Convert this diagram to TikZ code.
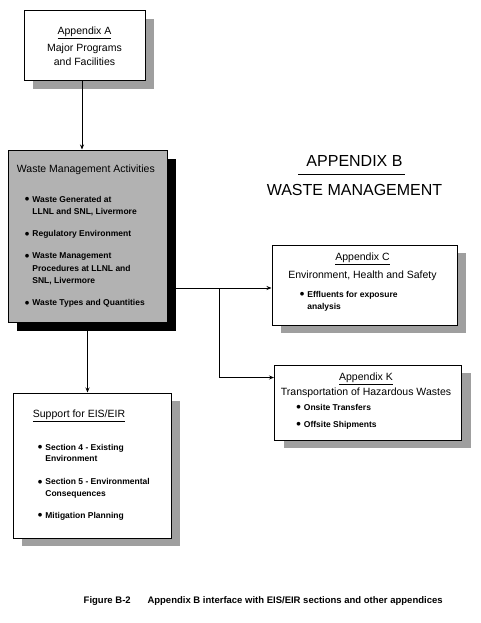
\documentclass[tikz,border=0pt]{standalone}
\usepackage{fontspec}
\setmainfont{Liberation Sans}
\usetikzlibrary{positioning, arrows.meta, shadows}

\newcommand{\dotitem}{\makebox[7.5pt][l]{\raisebox{-1.6pt}{\fontsize{13}{13}\selectfont\textbullet}}}
\newcommand{\cont}{\hspace*{7.5pt}}

\begin{document}
\begin{tikzpicture}[x=1pt, y=-1pt, >={Stealth[length=5pt, width=4pt]}, line width=0.8pt,
    panel/.style={draw, line width=1pt, fill=white, inner sep=0pt,
        drop shadow={shadow xshift=9pt, shadow yshift=-8pt, fill=gray!75, opacity=1}},
    darkpanel/.style={draw, line width=1pt, fill=gray!60, inner sep=0pt,
        drop shadow={shadow xshift=9pt, shadow yshift=-9pt, fill=black, opacity=1}},
    head/.style={inner sep=0pt, font=\fontsize{10.5}{14}\selectfont, align=center},
    list/.style={inner sep=0pt, font=\bfseries\fontsize{8.5}{12.5}\selectfont, align=left}]
    \useasboundingbox (0,0) rectangle (480,623);

    % boxes
    \node[panel, minimum width=121pt, minimum height=70pt] (appA) at (84.5,46) {};
    \node[darkpanel, minimum width=159pt, minimum height=172pt] (wm) at (87.5,236) {};
    \node[panel, minimum width=185pt, minimum height=80pt] (appC) at (364.5,285) {};
    \node[panel, minimum width=187pt, minimum height=75pt] (appK) at (368,402.5) {};
    \node[panel, minimum width=158pt, minimum height=145pt] (sup) at (92,465.5) {};

    % Appendix A
    \node[head, below=16pt of appA.north] (appAtxt)
        {\underline{Appendix A}\\[3pt]Major Programs\\and Facilities};

    % waste management activities
    \node[head, align=left, below right=15pt and 9pt of wm.north west] (wmhead)
        {Waste Management Activities};
    \node[list, below right=46pt and 17pt of wm.north west] (wmlist)
        {\dotitem Waste Generated at\\ \cont LLNL and SNL, Livermore\\[9.5pt]
         \dotitem Regulatory Environment\\[9.5pt]
         \dotitem Waste Management\\ \cont Procedures at LLNL and\\ \cont SNL, Livermore\\[9.5pt]
         \dotitem Waste Types and Quantities};

    % Appendix C
    \node[head, below=8pt of appC.north, xshift=-2pt] (appChead)
        {\underline{Appendix C}\\[4pt]Environment, Health and Safety};
    \node[list, below right=46pt and 28pt of appC.north west] (appClist)
        {\dotitem Effluents for exposure\\ \cont analysis};

    % Appendix K
    \node[head, below=8pt of appK.north, xshift=-2pt] (appKhead)
        {\underline{Appendix K}\\[1pt]Transportation of Hazardous Wastes};
    \node[list, below right=39pt and 22pt of appK.north west] (appKlist)
        {\dotitem Onsite Transfers\\[4.5pt]
         \dotitem Offsite Shipments};

    % support for EIS/EIR
    \node[head, align=left, below right=17pt and 20pt of sup.north west] (suphead)
        {\underline{Support for EIS/EIR}};
    \node[list, font=\bfseries\fontsize{8.5}{11.5}\selectfont,
          below right=51pt and 25pt of sup.north west] (suplist)
        {\dotitem Section 4 - Existing\\ \cont Environment\\[11.5pt]
         \dotitem Section 5 - Environmental\\ \cont Consequences\\[10.5pt]
         \dotitem Mitigation Planning};

    % title
    \node[inner sep=0pt, font=\fontsize{16}{19}\selectfont] (titleB) at (354.5,161) {APPENDIX B};
    \node[inner sep=0pt, font=\fontsize{16}{19}\selectfont, below=17pt of titleB] (titleWM)
        {WASTE MANAGEMENT};
    \draw[line width=1pt] ([xshift=-8pt, yshift=-8pt]titleB.south west)
        -- ([xshift=2pt, yshift=-8pt]titleB.south east);

    % connectors
    \coordinate (split) at (219,288);
    \draw[->] ([xshift=-2.5pt]appA.south) -- ([xshift=-2.5pt]appA.south |- wm.north);
    \draw[->] (wm.south) -- (wm.south |- sup.north);
    \draw[->] (wm.east |- split) -- (split -| appC.west);
    \draw[->] (split) |- ([yshift=-13pt]appK.north west);

    % caption
    \node[inner sep=0pt, font=\bfseries\fontsize{9.5}{12}\selectfont, anchor=base east] (figtxt)
        at (443,603) {Appendix B interface with EIS/EIR sections and other appendices};
    \node[inner sep=0pt, font=\bfseries\fontsize{9.5}{12}\selectfont,
          left=16pt of figtxt.base west, anchor=base east] (figno) {Figure B-2};
\end{tikzpicture}
\end{document}
